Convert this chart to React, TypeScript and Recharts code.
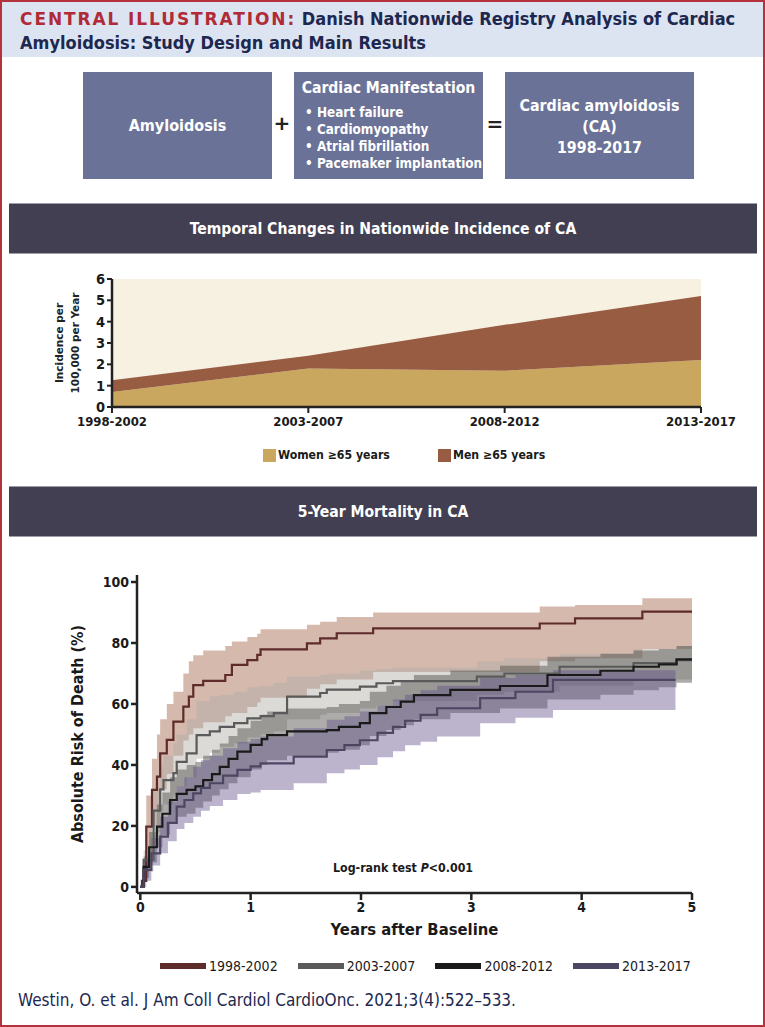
import React from 'react';
import { AreaChart, Area, XAxis, YAxis, CartesianGrid, ComposedChart, Line } from 'recharts';

const COND = '"Liberation Sans Narrow", "DejaVu Sans Condensed", Roboto, sans-serif';
const WIDE = '"DejaVu Sans", Verdana, sans-serif';
const NAVY = '#1d2850';

// ---------- Incidence (stacked area) ----------
const periods = ['1998-2002', '2003-2007', '2008-2012', '2013-2017'];
const womenIncidence = [0.7, 1.8, 1.7, 2.2];
const menIncidence = [0.55, 0.6, 2.15, 3.0];
const incidenceTicks = [0, 1, 2, 3, 4, 5, 6];
const incidenceData = periods.map((p, i) => ({ period: p, women: womenIncidence[i], men: menIncidence[i] }));

// ---------- 5-year mortality (cumulative risk, step curves with 95% CI) ----------
const t9802 = [0, 0.015, 0.054, 0.106, 0.151, 0.18, 0.24, 0.3, 0.39, 0.44, 0.48, 0.57, 0.77, 0.83, 0.97, 1.06, 1.09, 1.51, 1.63, 1.78, 2.11, 3.62, 3.94, 4.55, 5.0];
const risk9802 = [0, 2, 19.8, 31.8, 36.2, 43.8, 48.2, 54.2, 59.1, 62.4, 66.2, 67.6, 69.5, 72.8, 74.4, 76.1, 77.9, 79.9, 81.5, 83.2, 84.8, 86.4, 88.1, 90.3, 90.3];
const lo9802 = [0, 0, 10, 20, 25, 32, 37, 43, 48, 50, 52, 54, 56, 57, 59, 60.5, 62, 65, 66.5, 68, 70.5, 74, 75, 78, 78.8];
const hi9802 = [0, 6, 30, 42, 50, 55, 60, 64, 70, 74, 76, 77.5, 79, 80.5, 82, 83, 84.5, 86, 87, 88.5, 90, 92, 92.5, 94.7, 94.7];

const t0307 = [0, 0.03, 0.12, 0.18, 0.21, 0.3, 0.33, 0.42, 0.51, 0.63, 0.72, 0.85, 0.97, 1.09, 1.21, 1.33, 1.63, 1.69, 1.99, 2.14, 2.29, 3.05, 3.3, 3.8, 4.47, 4.86, 5.0];
const risk0307 = [0, 8.9, 25, 32, 35, 37.3, 41, 43.8, 49.8, 51, 52.5, 53.7, 55.3, 56, 57, 62.4, 63.6, 64.7, 65.7, 66.8, 67.5, 69, 70, 72.2, 73.4, 74.4, 74.4];
const lo0307 = [0, 5, 18, 25, 27, 30, 33, 36, 42, 44, 46, 47, 49, 50, 51, 55, 56.5, 57, 58.5, 59.5, 61, 63, 64, 66, 67.5, 68, 68];
const hi0307 = [0, 12, 32, 40, 43, 47, 50, 55, 61, 62.5, 63, 64, 65.5, 66, 67, 69, 69.5, 70, 71, 71.5, 72, 74, 75, 76.5, 78, 79, 79];

const t0812 = [0, 0.03, 0.08, 0.15, 0.2, 0.27, 0.33, 0.42, 0.5, 0.57, 0.65, 0.72, 0.8, 0.88, 1.0, 1.1, 1.15, 1.33, 1.69, 1.8, 1.99, 2.08, 2.23, 2.36, 2.48, 2.81, 3.26, 3.69, 4.17, 4.47, 4.7, 4.86, 5.0];
const risk0812 = [0, 6.6, 13, 19.8, 24, 28.5, 30.5, 31.8, 33, 35, 37, 39.4, 42, 44.4, 46.6, 48.5, 49.8, 51, 51.4, 52.5, 53.7, 57, 59, 60.8, 62.9, 64.6, 65.9, 69.5, 70.9, 72.2, 73, 74.6, 74.6];
const lo0812 = [0, 3, 8, 13, 17, 21, 23, 24, 26, 28, 30, 32, 34, 36, 38.5, 40, 41.5, 43, 44, 45, 46.5, 49.5, 51.5, 53, 55, 57, 58.5, 61.5, 63, 64.5, 65.5, 67, 67];
const hi0812 = [0, 10, 18, 27, 31, 36, 38.5, 40, 41, 43, 45, 47, 49.5, 52, 54.5, 56.5, 57.5, 58.5, 59, 60, 61, 64, 66, 67.5, 69.5, 71, 72.5, 75.5, 76.5, 77.5, 78, 79, 79];

const t1317 = [0, 0.03, 0.1, 0.18, 0.25, 0.33, 0.4, 0.48, 0.55, 0.63, 0.75, 0.88, 1.0, 1.09, 1.39, 1.69, 1.85, 1.99, 2.15, 2.29, 2.4, 2.54, 2.69, 3.08, 3.4, 3.74, 4.85];
const risk1317 = [0, 5.6, 11, 16.5, 21, 26.3, 28.5, 30.7, 32.5, 34, 36.5, 38.4, 39.5, 40.5, 42.7, 44.9, 46.5, 48.1, 50.5, 52.5, 54.5, 56.4, 58.6, 61.9, 64, 67.9, 67.9];
const lo1317 = [0, 2, 7, 11, 15, 19, 21, 23, 25, 26.5, 28.5, 30.5, 31, 31.8, 34, 37.3, 38.5, 40, 42.5, 44.5, 46.5, 47.6, 49.3, 53.7, 55.5, 58, 58];
const hi1317 = [0, 9, 16, 23, 28, 33, 36, 39.4, 41.5, 43, 45.5, 47.5, 48.5, 49.3, 52, 54.8, 56, 57.5, 59.5, 61.5, 63, 64.5, 66, 68.5, 69.5, 71.1, 77.7];

const mortalityTicksX = [0, 1, 2, 3, 4, 5];
const mortalityTicksY = [0, 20, 40, 60, 80, 100];

const build = (t: number[], v: number[], lo: number[], hi: number[]) =>
  t.map((x, i) => ({ t: x, v: v[i], band: [lo[i], hi[i]] }));

const cohorts = [
  { name: '1998-2002', data: build(t9802, risk9802, lo9802, hi9802), line: '#5e2b2b', fill: '#a4634a', op: 0.45 },
  { name: '2003-2007', data: build(t0307, risk0307, lo0307, hi0307), line: '#5a5a5a', fill: '#b0aea6', op: 0.45 },
  { name: '2008-2012', data: build(t0812, risk0812, lo0812, hi0812), line: '#1a1a1a', fill: '#4a4845', op: 0.45 },
  { name: '2013-2017', data: build(t1317, risk1317, lo1317, hi1317), line: '#4d4663', fill: '#5c4d85', op: 0.42 },
];

const IncidenceLabel = (props: any) => {
  const vb = props.viewBox || { y: 279, height: 128 };
  const cy = vb.y + vb.height / 2;
  return (
    <g transform={`translate(70, ${cy}) rotate(-90)`}>
      <text textAnchor="middle" y={-7} fontFamily={WIDE} fontWeight={700} fontSize={10.5} fill="#222">Incidence per</text>
      <text textAnchor="middle" y={8.5} fontFamily={WIDE} fontWeight={700} fontSize={10.5} fill="#222">100,000 per Year</text>
    </g>
  );
};

const Box = ({ left, children }: { left: number; children: React.ReactNode }) => (
  <div style={{ position: 'absolute', left, top: 70, width: 189, height: 107, background: '#6b7297', color: '#fff', fontFamily: COND, fontWeight: 700 }}>
    {children}
  </div>
);

const Band = ({ top, text }: { top: number; text: string }) => (
  <div style={{ position: 'absolute', left: 7, top, width: 748, height: 51, background: '#433f52', borderTop: '1px solid #a09eab', borderBottom: '1px solid #a09eab', boxSizing: 'border-box', color: '#fff', fontFamily: COND, fontWeight: 700, fontSize: 15.6, display: 'flex', alignItems: 'center', justifyContent: 'center' }}>
    {text}
  </div>
);

export default function App() {
  const axisStroke = { stroke: '#222', strokeWidth: 2.5 };
  return (
    <div style={{ position: 'absolute', left: 0, top: 0, width: 765, height: 1027, background: '#fff', border: '2px solid #b5313b', boxSizing: 'border-box', fontFamily: COND, overflow: 'hidden' }}>
      {/* Header */}
      <div style={{ position: 'absolute', left: 0, top: 0, width: 761, height: 55, background: '#dce3f1' }}>
        <div style={{ position: 'absolute', left: 18, top: 5, fontFamily: COND, fontWeight: 700, fontSize: 18, lineHeight: '23px', color: NAVY, whiteSpace: 'nowrap' }}>
          <span style={{ fontFamily: WIDE, color: '#b02a37', fontSize: 17, letterSpacing: 1.9 }}>CENTRAL ILLUSTRATION:</span> Danish Nationwide Registry Analysis of Cardiac
          <br />
          Amyloidosis: Study Design and Main Results
        </div>
      </div>

      {/* Study design boxes */}
      <Box left={81}>
        <div style={{ position: 'absolute', left: 0, right: 0, top: 44, textAlign: 'center', fontSize: 16 }}>Amyloidosis</div>
      </Box>
      <div style={{ position: 'absolute', left: 270, width: 20, top: 109, textAlign: 'center', fontFamily: WIDE, fontWeight: 700, fontSize: 20, color: '#222' }}>+</div>
      <Box left={292}>
        <div style={{ position: 'absolute', left: 0, right: 0, top: 7, textAlign: 'center', fontSize: 15.6 }}>Cardiac Manifestation</div>
        <div style={{ position: 'absolute', left: 11, top: 32, fontSize: 13.4, lineHeight: '17px', whiteSpace: 'nowrap' }}>
          <div>• Heart failure</div>
          <div>• Cardiomyopathy</div>
          <div>• Atrial fibrillation</div>
          <div>• Pacemaker implantation</div>
        </div>
      </Box>
      <div style={{ position: 'absolute', left: 483, width: 20, top: 110, textAlign: 'center', fontFamily: WIDE, fontWeight: 700, fontSize: 20, color: '#222' }}>=</div>
      <Box left={503}>
        <div style={{ position: 'absolute', left: 0, right: 0, top: 23, textAlign: 'center', fontSize: 15.8, lineHeight: '21px' }}>
          Cardiac amyloidosis<br />(CA)<br />1998-2017
        </div>
      </Box>

      <Band top={201} text="Temporal Changes in Nationwide Incidence of CA" />

      {/* Incidence chart */}
      <div style={{ position: 'absolute', left: -2, top: 258 }}>
        <AreaChart width={765} height={180} data={incidenceData} margin={{ top: 19, right: 64, left: 72, bottom: 8 }}>
          <CartesianGrid horizontal={false} vertical={false} fill="#f6f1e1" stroke="none" />
          <XAxis dataKey="period" interval={0} height={25} axisLine={axisStroke} tickLine={{ stroke: '#222', strokeWidth: 2 }} tickSize={6}
            tick={{ fill: '#1a1a1a', fontFamily: COND, fontSize: 13, fontWeight: 700, dy: 2 }} />
          <YAxis domain={[0, 6]} ticks={incidenceTicks} interval={0} width={40} axisLine={axisStroke} tickLine={{ stroke: '#222', strokeWidth: 2 }} tickSize={5}
            tick={{ fill: '#1a1a1a', fontFamily: COND, fontSize: 14.5, fontWeight: 700 }} label={<IncidenceLabel />} />
          <Area type="linear" dataKey="women" stackId="inc" stroke="none" fill="#c9a75f" fillOpacity={1} isAnimationActive={false} name="Women ≥65 years" />
          <Area type="linear" dataKey="men" stackId="inc" stroke="none" fill="#985c43" fillOpacity={1} isAnimationActive={false} name="Men ≥65 years" />
        </AreaChart>
      </div>

      {/* Incidence legend */}
      <div style={{ position: 'absolute', left: 261, top: 447, width: 13, height: 13, background: '#c9a75f' }} />
      <div style={{ position: 'absolute', left: 276, top: 445, fontSize: 12.2, fontWeight: 700, color: '#1a1a1a', lineHeight: '16px', whiteSpace: 'nowrap' }}>Women ≥65 years</div>
      <div style={{ position: 'absolute', left: 436, top: 447, width: 13, height: 13, background: '#985c43' }} />
      <div style={{ position: 'absolute', left: 451, top: 445, fontSize: 12.2, fontWeight: 700, color: '#1a1a1a', lineHeight: '16px', whiteSpace: 'nowrap' }}>Men ≥65 years</div>

      <Band top={484} text="5-Year Mortality in CA" />

      {/* Mortality chart */}
      <div style={{ position: 'absolute', left: -2, top: 558 }}>
        <ComposedChart width={765} height={400} margin={{ top: 15, right: 73, left: 17, bottom: 37 }}>
          <XAxis type="number" dataKey="t" domain={[-0.03, 5]} ticks={mortalityTicksX} allowDataOverflow height={30}
            axisLine={axisStroke} tickLine={{ stroke: '#222', strokeWidth: 2.5 }} tickSize={7}
            tick={{ fill: '#1a1a1a', fontFamily: COND, fontSize: 14, fontWeight: 700 }}
            label={{ value: 'Years after Baseline', position: 'bottom', offset: 0, fill: '#1a1a1a', fontFamily: COND, fontSize: 16.5, fontWeight: 700 }} />
          <YAxis type="number" domain={[-2, 102.3]} ticks={mortalityTicksY} interval={0} allowDataOverflow width={120}
            axisLine={axisStroke} tickLine={{ stroke: '#222', strokeWidth: 2.5 }} tickSize={6}
            tick={{ fill: '#1a1a1a', fontFamily: COND, fontSize: 14, fontWeight: 700 }}
            label={{ value: 'Absolute Risk of Death (%)', position: 'center', angle: -90, dx: 0, fill: '#1a1a1a', fontFamily: COND, fontSize: 16, fontWeight: 700 }} />
          {cohorts.map((c) => (
            <Area key={`band-${c.name}`} data={c.data} type="stepAfter" dataKey="band" stroke="none" fill={c.fill} fillOpacity={c.op}
              isAnimationActive={false} legendType="none" />
          ))}
          {cohorts.map((c) => (
            <Line key={`line-${c.name}`} data={c.data} type="stepAfter" dataKey="v" stroke={c.line} strokeWidth={2.2} dot={false}
              isAnimationActive={false} name={c.name} />
          ))}
        </ComposedChart>
      </div>

      <div style={{ position: 'absolute', left: 331, top: 859, fontSize: 12.3, fontWeight: 700, color: '#1a1a1a', whiteSpace: 'nowrap' }}>
        Log-rank test <i>P</i>&lt;0.001
      </div>

      {/* Mortality legend */}
      {cohorts.map((c, i) => (
        <React.Fragment key={c.name}>
          <div style={{ position: 'absolute', left: 158 + i * 137.7, top: 961, width: 46, height: 6, background: c.line }} />
          <div style={{ position: 'absolute', left: 207 + i * 137.7, top: 955, fontSize: 14, color: '#1a1a1a', lineHeight: '18px', whiteSpace: 'nowrap' }}>{c.name}</div>
        </React.Fragment>
      ))}

      {/* Citation */}
      <div style={{ position: 'absolute', left: 16, top: 988, fontSize: 17, color: NAVY, whiteSpace: 'nowrap' }}>
        Westin, O. et al. J Am Coll Cardiol CardioOnc. 2021;3(4):522–533.
      </div>
    </div>
  );
}
